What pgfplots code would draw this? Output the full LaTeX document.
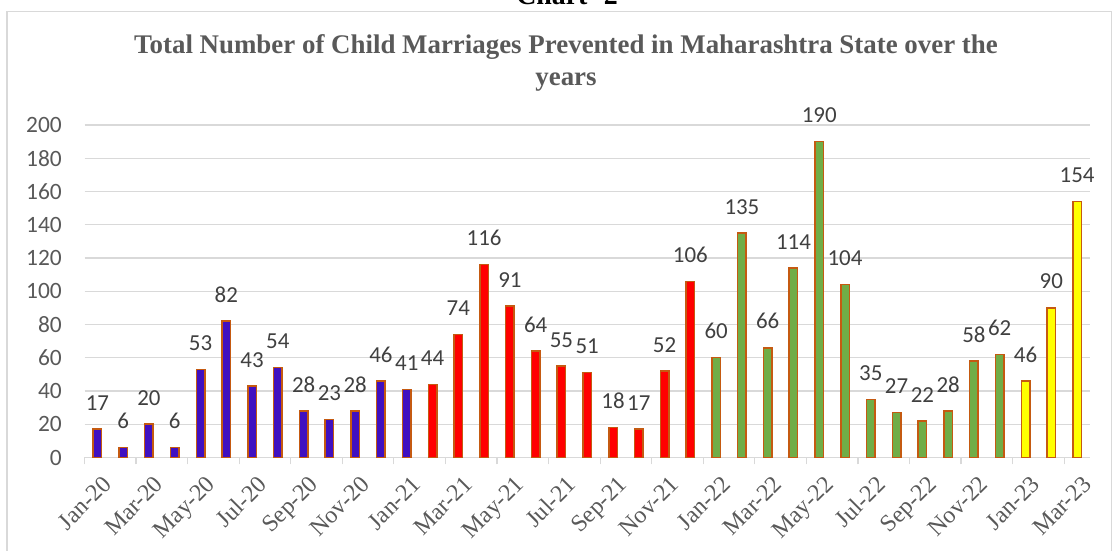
\documentclass[border=0pt]{standalone}
\usepackage{pgfplots}
\pgfplotsset{compat=1.18}
\usepackage{fontspec}
\setmainfont{Liberation Serif}
\newfontfamily\carlito{Carlito}
\definecolor{barblue}{RGB}{64,16,192}
\definecolor{barred}{RGB}{255,0,0}
\definecolor{bargreen}{RGB}{112,173,71}
\definecolor{baryellow}{RGB}{255,255,0}
\definecolor{baredge}{RGB}{197,90,17}
\definecolor{txtgray}{RGB}{89,89,89}
\definecolor{lblgray}{RGB}{64,64,64}
\definecolor{gridgray}{RGB}{217,217,217}
\begin{document}
\begin{tikzpicture}[x=1bp,y=1bp]
\useasboundingbox (0,0) rectangle (1113,551);
\clip (0,0) rectangle (1113,551);
\node[anchor=base, font=\bfseries\fontsize{28}{30}\selectfont, inner sep=0pt] at (567,546) {Chart -2};
\draw[gridgray, line width=1.2bp] (7,-10) rectangle (1111.5,539.3);
\node[align=center, font=\bfseries\fontsize{27}{33}\selectfont, text=txtgray] at (566,488) {Total Number of Child Marriages Prevented in Maharashtra State over the\\years};
\begin{axis}[
  at={(84.5bp,93.5bp)}, anchor=south west, scale only axis,
  width=1005.5bp, height=332.5bp,
  xmin=-0.5, xmax=38.5, ymin=0, ymax=200,
  ybar, bar width=8.5bp, bar shift=0pt,
  axis x line*=bottom, axis y line*=left,
  x axis line style={draw=gridgray, line width=1.2bp, -},
  y axis line style={draw=none},
  ytick={0,20,...,200},
  ymajorgrids, grid style={draw=gridgray, line width=1.2bp},
  ytick style={draw=none},
  yticklabel style={font=\carlito\fontsize{23.5}{23.5}\selectfont, text=txtgray, anchor=east, inner sep=0pt, xshift=-22.5bp},
  /pgf/number format/assume math mode=true,
  xtick={0,2,...,38},
  xticklabels={Jan-20,Mar-20,May-20,Jul-20,Sep-20,Nov-20,Jan-21,Mar-21,May-21,Jul-21,Sep-21,Nov-21,Jan-22,Mar-22,May-22,Jul-22,Sep-22,Nov-22,Jan-23,Mar-23},
  xtick style={draw=none},
  xticklabel style={font=\fontsize{24}{24}\selectfont, text=txtgray, rotate=45, anchor=north east, inner sep=0pt, xshift=-6bp, yshift=-12bp},
  extra x ticks={-0.5,1.5,...,37.5},
  extra x tick labels={},
  extra x tick style={xtick style={draw=gridgray, line width=1.2bp}, major tick length=7bp, tick align=outside},
  nodes near coords,
  nodes near coords style={font=\carlito\fontsize{23}{23}\selectfont, text=lblgray, inner sep=0pt, anchor=south, yshift=18bp},
  clip=false,
]
\addplot[fill=barblue, draw=baredge, line width=1.5bp] coordinates {
(0,17) (1,6) (2,20) (3,6) (4,53) (5,82) (6,43) (7,54) (8,28) (9,23) (10,28) (11,46) (12,41)};
\addplot[fill=barred, draw=baredge, line width=1.5bp] coordinates {
(13,44) (14,74) (15,116) (16,91) (17,64) (18,55) (19,51) (20,18) (21,17) (22,52) (23,106)};
\addplot[fill=bargreen, draw=baredge, line width=1.5bp] coordinates {
(24,60) (25,135) (26,66) (27,114) (28,190) (29,104) (30,35) (31,27) (32,22) (33,28) (34,58) (35,62)};
\addplot[fill=baryellow, draw=baredge, line width=1.5bp] coordinates {
(36,46) (37,90) (38,154)};
\end{axis}
\end{tikzpicture}
\end{document}
